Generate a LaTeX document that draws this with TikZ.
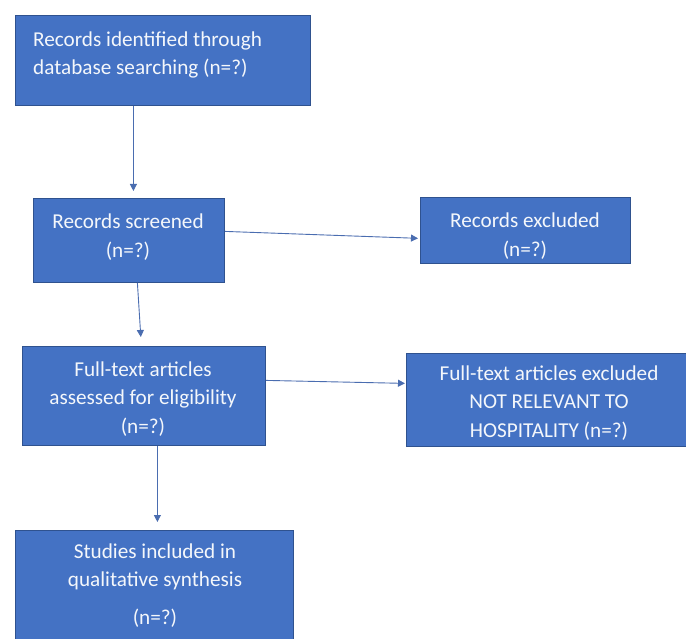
\documentclass[tikz,border=0pt]{standalone}
\usepackage{fontspec}
\setmainfont{Carlito}
\usetikzlibrary{arrows.meta,calc}
\definecolor{boxblue}{HTML}{4472C4}
\definecolor{boxedge}{HTML}{2F528F}
\definecolor{linkblue}{HTML}{4A6DB0}
\begin{document}
\begin{tikzpicture}[x=1pt,y=-1pt,
  stagebox/.style={draw=boxedge,line width=0.8pt,fill=boxblue,inner sep=0pt,anchor=north west},
  boxtext/.style={text=white!94!boxblue,inner sep=0pt,font=\fontsize{21.2}{28.5}\selectfont},
  link/.style={draw=linkblue,line width=0.9pt,-{Triangle[length=7pt,width=7pt]}}]
\clip (0,0) rectangle (686,639);
\fill[white] (0,0) rectangle (686,639);

% stage boxes
\node[stagebox,minimum width=295,minimum height=90] (b1) at (15,15) {};
\node[stagebox,minimum width=191,minimum height=84] (b2) at (33,198) {};
\node[stagebox,minimum width=210,minimum height=66] (b3) at (420,197) {};
\node[stagebox,minimum width=243,minimum height=99] (b4) at (22,346) {};
\node[stagebox,minimum width=280,minimum height=93] (b5) at (406,353) {};
\node[stagebox,minimum width=278,minimum height=125] (b6) at (15,530) {};

% box texts
\node[boxtext,align=left,anchor=west] (t1) at (33,55) {Records identified through\\database searching (n=?)};
\node[boxtext,align=center] (t2) at (128,237) {Records screened\\(n=?)};
\node[boxtext,align=center] (t3) at (525,236) {Records excluded\\(n=?)};
\node[boxtext,align=center] (t4) at (143,399) {Full-text articles\\assessed for eligibility\\(n=?)};
\node[boxtext,align=center] (t5) at (549,403) {Full-text articles excluded\\NOT RELEVANT TO\\HOSPITALITY (n=?)};
\node[boxtext,align=center] (t6) at (155,567) {Studies included in\\qualitative synthesis};
\node[boxtext,align=center] (t6n) at (155,618) {(n=?)};

% connectors
\draw[link,shorten >=7pt] ($(b1.south)+(-29.5,0)$) -- ($(b2.north)+(4.5,0)$);
\draw[link,shorten >=9pt] ($(b2.south)+(8.5,0)$) -- ($(b4.north)+(-2.5,0)$);
\draw[link,shorten >=2pt] ($(b2.east)+(0,-9)$) -- ($(b3.west)+(0,8)$);
\draw[link,shorten >=1pt] ($(b4.east)+(0,-15.5)$) -- ($(b5.west)+(0,-16.5)$);
\draw[link,shorten >=8pt] ($(b4.south)+(13.5,0)$) -- ($(b6.north)+(3,0)$);
\end{tikzpicture}
\end{document}
